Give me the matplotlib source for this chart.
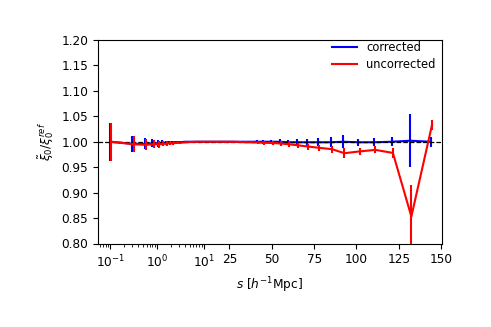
import numpy as np
import matplotlib
matplotlib.use("Agg")
import matplotlib.pyplot as plt
import matplotlib.transforms as mtransforms
from matplotlib.lines import Line2D

# ---- data ----
s = [0.1, 0.3, 0.55, 0.8, 1.05, 1.3, 1.55, 1.8, 2.1, 2.5, 3, 4, 5, 7, 10, 14, 18,
     22, 26, 30, 34, 37.5, 41, 44.7, 49.8, 54.7, 59.6, 64.6, 70.9, 77.4, 84.7,
     92.2, 101.1, 110.5, 120.8, 131.7, 143.9]

corr = [1.000, 0.996, 0.996, 0.997, 0.997, 0.998, 0.998, 0.998, 0.999, 0.999,
        0.999, 1.000, 1.000, 1.000, 1.000, 1.000, 1.000, 1.000, 1.000, 1.000,
        1.000, 1.000, 1.000, 1.000, 1.000, 1.000, 0.999, 0.999, 0.999, 0.999,
        0.999, 1.000, 0.999, 0.999, 1.000, 1.002, 1.000]
corr_err = [0.037, 0.016, 0.011, 0.008, 0.0065, 0.005, 0.004, 0.003, 0.0025,
            0.002, 0.0015, 0.001, 0.001, 0.001, 0.001, 0.001, 0.001, 0.0015,
            0.0015, 0.0015, 0.002, 0.002, 0.003, 0.0035, 0.004, 0.0045, 0.005,
            0.0065, 0.007, 0.008, 0.0095, 0.013, 0.007, 0.0075, 0.009, 0.052,
            0.010]

uncorr = [1.000, 0.995, 0.994, 0.995, 0.995, 0.996, 0.9965, 0.997, 0.997,
          0.998, 0.998, 0.999, 0.9995, 1.000, 1.000, 1.000, 1.000, 1.000,
          1.000, 0.9995, 0.999, 0.9988, 0.9985, 0.998, 0.9975, 0.9965, 0.995,
          0.993, 0.9905, 0.988, 0.9855, 0.9775, 0.981, 0.984, 0.978, 0.853,
          1.033]
uncorr_err = [0.037, 0.016, 0.011, 0.008, 0.0065, 0.005, 0.004, 0.003, 0.0025,
              0.002, 0.0015, 0.001, 0.001, 0.001, 0.001, 0.001, 0.001, 0.0015,
              0.0015, 0.0015, 0.002, 0.002, 0.003, 0.0035, 0.004, 0.0045, 0.005,
              0.0055, 0.006, 0.0065, 0.007, 0.010, 0.007, 0.007, 0.009, 0.062,
              0.0095]

xticks = [0.1, 1, 10, 25, 50, 75, 100, 125, 150]
xticklabels = [r"$10^{-1}$", r"$10^{0}$", r"$10^{1}$", "25", "50", "75", "100", "125", "150"]
yticks = [0.80, 0.85, 0.90, 0.95, 1.00, 1.05, 1.10, 1.15, 1.20]

# ---- mixed log/linear scale ----
T = 12.0
LT = np.log10(T)
SLOPE = 1.0 / (T * np.log(10))


def fwd(x):
    x = np.asarray(x, dtype=float)
    xl = np.log10(np.clip(x, 1e-12, None))
    return np.where(x < T, xl, LT + (x - T) * SLOPE)


def inv(y):
    y = np.asarray(y, dtype=float)
    return np.where(y < LT, 10.0 ** np.clip(y, -300, LT), T + (y - LT) / SLOPE)


fig = plt.figure(figsize=(4.91, 3.27), dpi=100)
ax = fig.add_axes([98 / 491, (327 - 243.5) / 327, (442 - 98) / 491, (243.5 - 40) / 327])
ax.set_xscale("function", functions=(fwd, inv))

lw = 1.5
ax.errorbar(s, corr, yerr=corr_err, color="blue", lw=lw, elinewidth=lw,
            capsize=0, zorder=2)
ax.axhline(1.0, color="black", ls="--", lw=0.9, zorder=2.5)
off = mtransforms.offset_copy(ax.transData, fig=fig, x=1.2, y=0, units="dots")
ax.errorbar(s, uncorr, yerr=uncorr_err, color="red", lw=lw, elinewidth=lw,
            capsize=0, zorder=3, transform=off)

ax.set_xlim(0.055, 150.5)
ax.set_ylim(0.80, 1.20)
ax.set_xticks(xticks)
ax.set_xticklabels(xticklabels)
minor = [m * 10.0 ** e for e in (-2, -1, 0) for m in range(2, 10)]
minor = [v for v in minor if v > 0.055]
ax.set_xticks(minor, minor=True)
ax.set_yticks(yticks)
ax.set_yticklabels([f"{v:.2f}" for v in yticks])
ax.tick_params(axis="both", labelsize=8.7)

ax.set_xlabel(r"$s$ [$h^{-1}$Mpc]", fontsize=8.7)
ax.set_ylabel(r"$\tilde{\xi}_0/\xi_0^{ref}$", fontsize=8.7)

handles = [Line2D([], [], color="blue", lw=lw), Line2D([], [], color="red", lw=lw)]
ax.legend(handles, ["corrected", "uncorrected"], loc="upper right", frameon=False,
          fontsize=8.3, handlelength=2.2, labelspacing=0.3,
          bbox_to_anchor=(1.012, 1.045))

fig.savefig("out.png", dpi=100)
